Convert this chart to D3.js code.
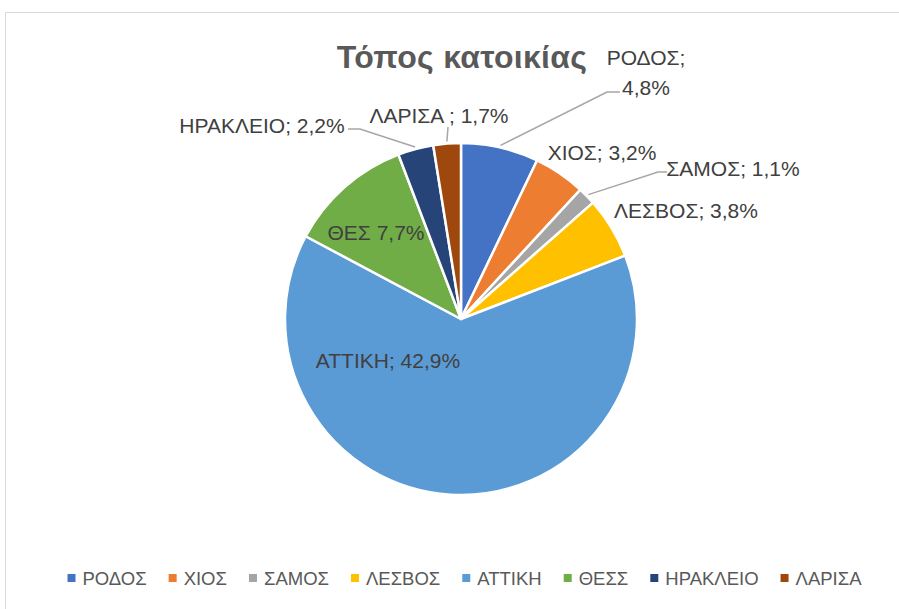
<!DOCTYPE html>
<html>
<head>
<meta charset="utf-8">
<script src="https://cdn.jsdelivr.net/npm/d3@7"></script>
<style>
  body { margin: 0; background: #fff; }
  text { font-family: "Liberation Sans", Arial, sans-serif; }
</style>
</head>
<body>
<svg id="chart" width="899" height="609"></svg>
<script>
// data
const categories = ["ΡΟΔΟΣ", "ΧΙΟΣ", "ΣΑΜΟΣ", "ΛΕΣΒΟΣ", "ΑΤΤΙΚΗ", "ΘΕΣΣ", "ΗΡΑΚΛΕΙΟ", "ΛΑΡΙΣΑ"];
const values = [4.8, 3.2, 1.1, 3.8, 42.9, 7.7, 2.2, 1.7];
const labelNames = ["ΡΟΔΟΣ;", "ΧΙΟΣ; ", "ΣΑΜΟΣ; ", "ΛΕΣΒΟΣ; ", "ΑΤΤΙΚΗ; ", "ΘΕΣ ", "ΗΡΑΚΛΕΙΟ; ", "ΛΑΡΙΣΑ ; "];
const colors = ["#4472C4", "#ED7D31", "#A5A5A5", "#FFC000", "#5B9BD5", "#70AD47", "#264478", "#9E480E"];
const title = "Τόπος κατοικίας";

const cx = 461, cy = 319, radius = 176;

// label placement (offsets from pie centre), leader elbow/end points
const labelLayout = [
  {x: 185, y: -247, lines: 2, leader: [[146, -227], [159, -227]]},
  {x: 141, y: -167},
  {x: 272, y: -151, leader: [[197, -147], [206, -147]]},
  {x: 225, y: -109},
  {x: -73, y: 41},
  {x: -85, y: -87},
  {x: -199, y: -194, leader: [[-101, -190], [-113, -190]]},
  {x: -22, y: -204, leader: [[-13, -192]]}
];

const svg = d3.select("#chart");

// chart area border (only top/left edges show)
svg.append("rect")
  .attr("x", 5.5).attr("y", 12.5)
  .attr("width", 1000).attr("height", 1000)
  .attr("fill", "#fff")
  .attr("stroke", "#d9d9d9")
  .attr("stroke-width", 1);

svg.append("text")
  .attr("x", 462).attr("y", 68)
  .attr("text-anchor", "middle")
  .attr("font-size", 32)
  .attr("font-weight", "bold")
  .attr("letter-spacing", 0.3)
  .attr("fill", "#595959")
  .text(title);

const pie = d3.pie().sort(null).value(d => d);
const arcs = pie(values);
const arc = d3.arc().innerRadius(0).outerRadius(radius);

const g = svg.append("g").attr("transform", `translate(${cx},${cy})`);

g.selectAll("path.slice").data(arcs)
  .enter().append("path")
  .attr("class", "slice")
  .attr("d", arc)
  .attr("fill", (d, i) => colors[i])
  .attr("stroke", "#fff")
  .attr("stroke-width", 2.5)
  .attr("stroke-linejoin", "round");

const fmt = v => d3.format(".1f")(v).replace(".", ",") + "%";

// leader lines
arcs.forEach((d, i) => {
  const L = labelLayout[i];
  if (!L.leader) return;
  const a = (d.startAngle + d.endAngle) / 2;
  const r0 = radius + 2;
  const pts = [[Math.sin(a) * r0, -Math.cos(a) * r0]].concat(L.leader);
  g.append("path")
    .attr("d", d3.line()(pts))
    .attr("fill", "none")
    .attr("stroke", "#a6a6a6")
    .attr("stroke-width", 1.5);
});

// data labels
arcs.forEach((d, i) => {
  const L = labelLayout[i];
  const t = g.append("text")
    .attr("text-anchor", "middle")
    .attr("font-size", 21)
    .attr("fill", "#404040")
    .attr("dominant-baseline", "central");
  if (L.lines === 2) {
    t.append("tspan").attr("x", L.x).attr("y", L.y - 15).text(labelNames[i]);
    t.append("tspan").attr("x", L.x).attr("y", L.y + 15).text(fmt(values[i]));
  } else {
    t.attr("x", L.x).attr("y", L.y).text(labelNames[i] + fmt(values[i]));
  }
});

// legend
const legend = svg.append("g");
const items = legend.selectAll("g").data(categories).enter().append("g");
items.append("rect")
  .attr("width", 8).attr("height", 8)
  .attr("y", -4)
  .attr("fill", (d, i) => colors[i]);
items.append("text")
  .attr("x", 15)
  .attr("font-size", 18.5)
  .attr("fill", "#595959")
  .attr("dominant-baseline", "central")
  .text(d => d);
let xpos = 0;
items.each(function () {
  const w = 15 + d3.select(this).select("text").node().getComputedTextLength();
  d3.select(this).attr("transform", `translate(${xpos},0)`);
  xpos += w + 22;
});
const legendW = xpos - 22;
legend.attr("transform", `translate(${464.5 - legendW / 2},578)`);
</script>
</body>
</html>
